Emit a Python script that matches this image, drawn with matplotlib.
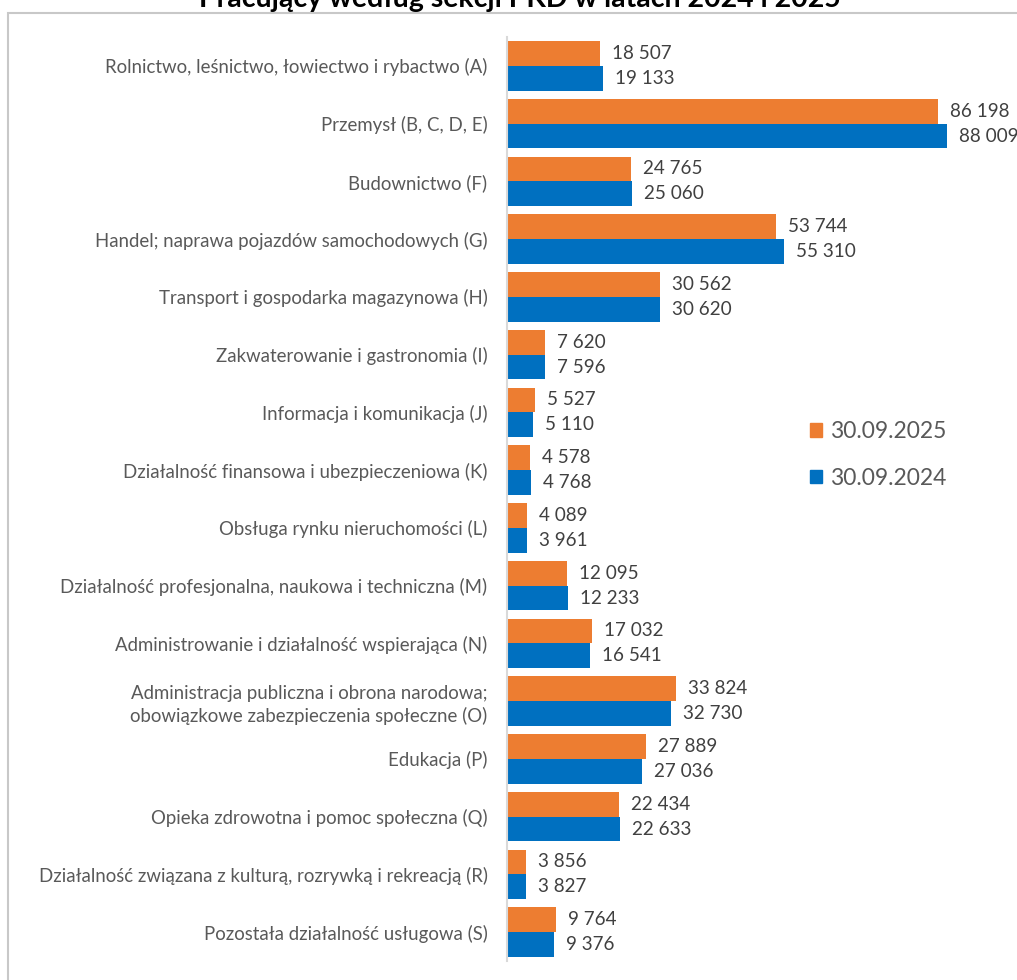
import matplotlib
matplotlib.use('Agg')
import matplotlib.pyplot as plt
from matplotlib.patches import Rectangle, Patch

categories = [
    'Rolnictwo, leśnictwo, łowiectwo i rybactwo (A)',
    'Przemysł (B, C, D, E)',
    'Budownictwo (F)',
    'Handel; naprawa pojazdów samochodowych (G)',
    'Transport i gospodarka magazynowa (H)',
    'Zakwaterowanie i gastronomia (I)',
    'Informacja i komunikacja (J)',
    'Działalność finansowa i ubezpieczeniowa (K)',
    'Obsługa rynku nieruchomości (L)',
    'Działalność profesjonalna, naukowa i techniczna (M)',
    'Administrowanie i działalność wspierająca (N)',
    'Administracja publiczna i obrona narodowa;\nobowiązkowe zabezpieczenia społeczne (O)',
    'Edukacja (P)',
    'Opieka zdrowotna i pomoc społeczna (Q)',
    'Działalność związana z kulturą, rozrywką i rekreacją (R)',
    'Pozostała działalność usługowa (S)',
]
values_2025 = [18507, 86198, 24765, 53744, 30562, 7620, 5527, 4578, 4089,
               12095, 17032, 33824, 27889, 22434, 3856, 9764]
values_2024 = [19133, 88009, 25060, 55310, 30620, 7596, 5110, 4768, 3961,
               12233, 16541, 32730, 27036, 22633, 3827, 9376]
series_labels = ['30.09.2025', '30.09.2024']
title = 'Pracujący według sekcji PKD w latach 2024 i 2025'

color_2025 = '#ED7D31'
color_2024 = '#0070C0'
text_gray = '#595959'

plt.rcParams['font.family'] = ['Lato', 'DejaVu Sans']

W, H = 1017, 980
fig = plt.figure(figsize=(W / 100, H / 100), dpi=100)

# outer frame (cut off on the right and bottom like the screenshot)
fig.patches.append(Rectangle((8 / W, -0.1), 1.2, 1 - 13 / H + 0.1,
                             transform=fig.transFigure, fill=False,
                             edgecolor='#C8C8C8', linewidth=1.5))

fig.text(520 / W, 1 - 7 / H, title, ha='center', va='baseline',
         fontsize=20.5, fontweight='bold', color='black')

ax = fig.add_axes([507 / W, 1 - 961 / H, (W - 507) / W, (961 - 37) / H])

pos = list(range(len(categories)))
h = 0.43
ax.barh([p - h / 2 for p in pos], values_2025, height=h, color=color_2025, label=series_labels[0])
ax.barh([p + h / 2 for p in pos], values_2024, height=h, color=color_2024, label=series_labels[1])

def fmt(v):
    return f'{v:,}'.replace(',', ' ')

for p, v1, v2 in zip(pos, values_2025, values_2024):
    ax.text(v1 + 2400, p - h / 2, fmt(v1), va='center', ha='left', fontsize=13.6, color='#404040')
    ax.text(v2 + 2400, p + h / 2, fmt(v2), va='center', ha='left', fontsize=13.6, color='#404040')

ax.set_xlim(0, (W - 507) / 0.005)
ax.set_ylim(len(categories) - 0.5, -0.5)
ax.set_yticks(pos)
ax.set_yticklabels(categories, fontsize=13.45, color=text_gray, linespacing=1.3)
ax.tick_params(axis='y', length=0, pad=14)
ax.set_xticks([])
for s in ['top', 'right', 'bottom']:
    ax.spines[s].set_visible(False)
ax.spines['left'].set_color('#D9D9D9')
ax.spines['left'].set_linewidth(1.5)

handles = [Patch(color=color_2025), Patch(color=color_2024)]
leg = fig.legend(handles, series_labels, loc='center left',
                 bbox_to_anchor=(789 / W, 1 - 455 / H), frameon=False,
                 fontsize=16.5, handlelength=0.55, handleheight=0.55,
                 handletextpad=0.35, labelspacing=1.1, labelcolor=text_gray)

plt.savefig('out.png', dpi=100)
plt.close()
